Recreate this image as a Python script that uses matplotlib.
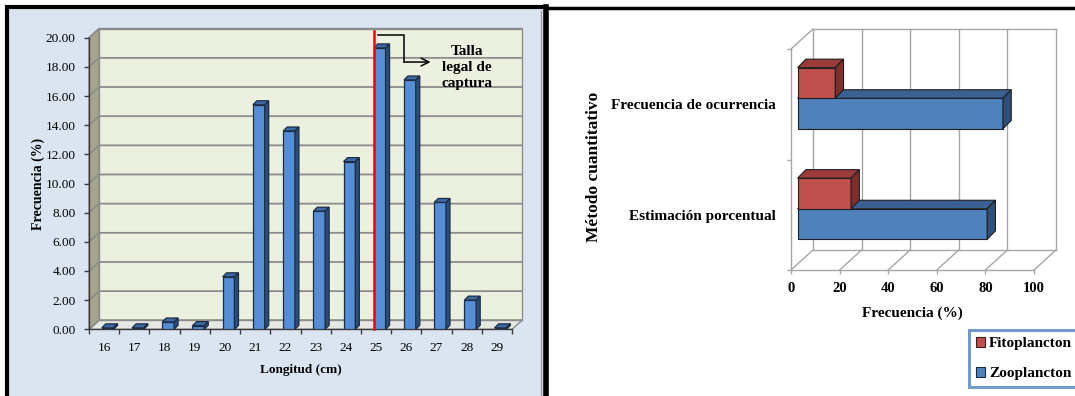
import matplotlib
matplotlib.use("Agg")
import matplotlib.pyplot as plt
from matplotlib.patches import Polygon, Rectangle, Patch
from matplotlib.lines import Line2D
import numpy as np

plt.rcParams["font.family"] = ["Liberation Serif", "DejaVu Serif"]

W, H, DPI = 1075, 396, 100

# Length-frequency distribution of the catch
longitud = [16, 17, 18, 19, 20, 21, 22, 23, 24, 25, 26, 27, 28, 29]
frecuencia = [0.10, 0.10, 0.50, 0.25, 3.60, 15.40, 13.60, 8.10, 11.50, 19.30, 17.10, 8.70, 2.00, 0.10]
talla_legal = 25
yticks_left = list(range(0, 21, 2))

# Diet composition by quantitative method
metodos = ["Estimación porcentual", "Frecuencia de ocurrencia"]
fitoplancton = [22.0, 15.5]
zooplancton = [78.0, 84.5]
xticks_right = [0, 20, 40, 60, 80, 100]

fig = plt.figure(figsize=(W / DPI, H / DPI), dpi=DPI)
fig.patch.set_facecolor("white")


def frac_box(x0, y0, x1, y1):
    """Pixel box (origin top-left) -> figure-fraction rect."""
    return [x0 / W, 1 - y1 / H, (x1 - x0) / W, (y1 - y0) / H]


# ---------------- panel frames ----------------
fig.patches.append(Rectangle((7 / W, -0.05), (546 - 7) / W, 1.05 - 7 / H,
                             transform=fig.transFigure, facecolor="#dbe5f1",
                             edgecolor="black", linewidth=3, zorder=-2))
fig.add_artist(Line2D([546 / W, 546 / W], [0, 1 - 7 / H], transform=fig.transFigure,
                      color="black", linewidth=4, zorder=-1))
fig.add_artist(Line2D([541 / W, 541 / W], [0, 1 - 11 / H], transform=fig.transFigure,
                      color="#9a9a9a", linewidth=1, zorder=-1))
fig.add_artist(Line2D([546 / W, 1], [1 - 7.5 / H, 1 - 7.5 / H], transform=fig.transFigure,
                      color="black", linewidth=2.5, zorder=-1))

# ---------------- left chart: 3D-style column chart ----------------
L_X0, L_X1, L_Y0, L_Y1 = 89, 512, 37.7, 329.3
ax1 = fig.add_axes(frac_box(L_X0, L_Y0, L_X1, L_Y1))
ax1.set_zorder(2)
n = len(longitud)
ax1.set_xlim(-0.5, n - 0.5)
ax1.set_ylim(0, 20)
ax1.patch.set_visible(False)

pxx = (L_X1 - L_X0) / n
pxy = (L_Y1 - L_Y0) / 20.0
wx, wy = 10 / pxx, 9 / pxy          # back-wall depth offset
xa, xb = -0.5, n - 0.5

grid_c = "#8c8c8c"
ax1.add_patch(Polygon([(xa + wx, wy), (xb + wx, wy), (xb + wx, 20 + wy), (xa + wx, 20 + wy)],
                      closed=True, facecolor="#ebf1de", edgecolor=grid_c, lw=1, zorder=0.5,
                      clip_on=False))
ax1.add_patch(Polygon([(xa, 0), (xa + wx, wy), (xa + wx, 20 + wy), (xa, 20)],
                      closed=True, facecolor="#a5a58d", edgecolor=grid_c, lw=1, zorder=0.6,
                      clip_on=False))
ax1.add_patch(Polygon([(xa, 0), (xb, 0), (xb + wx, wy), (xa + wx, wy)],
                      closed=True, facecolor="#e6e9e1", edgecolor=grid_c, lw=1, zorder=0.6,
                      clip_on=False))
for g in yticks_left:
    ax1.plot([xa, xa + wx, xb + wx], [g, g + wy, g + wy], color=grid_c, lw=1.3,
             zorder=0.8, clip_on=False)

# columns: front faces via bar(), top and side faces as polygons
xs = np.arange(n)
bw, boff = 0.39, 0.12
dx, dy = 4 / pxx, 4 / pxy
front_c, top_c, side_c, edge_c = "#558ed5", "#3d6aa3", "#2c4d78", "#1b2c44"
ax1.bar(xs + boff, frecuencia, width=bw, color=front_c, edgecolor=edge_c, lw=0.9, zorder=3)
for x, v in zip(xs + boff, frecuencia):
    xl, xr = x - bw / 2, x + bw / 2
    ax1.add_patch(Polygon([(xl, v), (xr, v), (xr + dx, v + dy), (xl + dx, v + dy)],
                          closed=True, facecolor=top_c, edgecolor=edge_c, lw=0.9, zorder=3,
                          clip_on=False))
    ax1.add_patch(Polygon([(xr, 0), (xr, v), (xr + dx, v + dy), (xr + dx, dy)],
                          closed=True, facecolor=side_c, edgecolor=edge_c, lw=0.9, zorder=3,
                          clip_on=False))

# legal catch size marker
i_legal = longitud.index(talla_legal)
x_legal = i_legal + boff - bw / 2
ax1.plot([x_legal, x_legal], [0, 20.45], color="#ff0000", lw=1.8, zorder=5, clip_on=False)
y_a, y_b = 20.18, 18.33
ax1.plot([x_legal + 0.13, x_legal + 1.0, x_legal + 1.0], [y_a, y_a, y_b],
         color="black", lw=1.1, zorder=5, clip_on=False)
ax1.annotate("", xy=(x_legal + 1.88, y_b), xytext=(x_legal + 0.99, y_b),
             arrowprops=dict(arrowstyle="->", color="black", lw=1.1,
                             mutation_scale=14, shrinkA=0, shrinkB=0), zorder=5)
ax1.text(x_legal + 3.08, 17.95, "Talla\nlegal de\ncaptura", ha="center", va="center",
         fontsize=11, fontweight="bold", linespacing=1.3, zorder=5)

# axes, ticks and labels
for s in ["top", "right"]:
    ax1.spines[s].set_visible(False)
for s in ["left", "bottom"]:
    ax1.spines[s].set_color("#3a3a3a")
    ax1.spines[s].set_linewidth(1)
ax1.set_yticks(yticks_left)
ax1.set_yticklabels([f"{t:.2f}" for t in yticks_left], fontsize=9.5)
ax1.set_xticks(np.arange(n + 1) - 0.5)
ax1.set_xticklabels([])
ax1.set_xticks(xs, minor=True)
ax1.set_xticklabels([str(v) for v in longitud], minor=True, fontsize=9.5)
ax1.tick_params(axis="both", which="major", direction="out", length=3.5, width=1,
                color="#3a3a3a", pad=2)
ax1.tick_params(axis="y", which="major", pad=6)
ax1.tick_params(axis="x", which="minor", length=0, pad=9)
ax1.set_xlabel("Longitud (cm)", fontsize=9.5, fontweight="bold")
ax1.xaxis.set_label_coords(0.5, (L_Y1 - 370) / (L_Y1 - L_Y0))
ax1.xaxis.label.set_va("center")
ax1.set_ylabel("Frecuencia (%)", fontsize=10, fontweight="bold")
ax1.yaxis.set_label_coords((38 - L_X0) / (L_X1 - L_X0), 0.5)
ax1.yaxis.label.set_va("center")

# ---------------- right chart: 3D-style clustered horizontal bars ----------------
R_X0, R_X1, R_Y0, R_Y1 = 791, 1034, 49, 270
ax2 = fig.add_axes(frac_box(R_X0, R_Y0, R_X1, R_Y1))
ax2.set_zorder(2)
ax2.set_xlim(0, 100)
ax2.set_ylim(0, 2)
ax2.patch.set_visible(False)

qx = (R_X1 - R_X0) / 100.0
qy = (R_Y1 - R_Y0) / 2.0
bx, by = 22 / qx, 20 / qy            # back-wall depth offset
g2 = "#a6a6a6"
for v in xticks_right:
    ax2.plot([v + bx, v + bx], [by, 2 + by], color=g2, lw=1, zorder=0.5, clip_on=False)
    ax2.plot([v, v + bx], [0, by], color=g2, lw=1, zorder=0.5, clip_on=False)
ax2.plot([bx, 100 + bx], [by, by], color=g2, lw=1, zorder=0.5, clip_on=False)
ax2.plot([bx, 100 + bx], [2 + by, 2 + by], color=g2, lw=1, zorder=0.5, clip_on=False)
ax2.plot([0, bx], [2, 2 + by], color=g2, lw=1, zorder=0.5, clip_on=False)

f_depth = 0.3
x0 = f_depth * bx
y_shift = f_depth * by
bh = 0.277
ddx, ddy = 8.3 / qx, 8.5 / qy
cats = np.arange(len(metodos)) + 0.5


def bar3d(ax, centers, values, fc, tc, sc):
    ax.barh(centers, values, height=bh, left=x0, color=fc, edgecolor="#1e1e1e",
            lw=0.8, zorder=3)
    for c, v in zip(centers, values):
        yb, yt = c - bh / 2, c + bh / 2
        xr = x0 + v
        ax.add_patch(Polygon([(x0, yt), (xr, yt), (xr + ddx, yt + ddy), (x0 + ddx, yt + ddy)],
                             closed=True, facecolor=tc, edgecolor="#1e1e1e", lw=0.8,
                             zorder=3, clip_on=False))
        ax.add_patch(Polygon([(xr, yb), (xr, yt), (xr + ddx, yt + ddy), (xr + ddx, yb + ddy)],
                             closed=True, facecolor=sc, edgecolor="#1e1e1e", lw=0.8,
                             zorder=3, clip_on=False))


zoo_fc, zoo_tc, zoo_sc = "#4f81bd", "#3a6094", "#2f4e78"
fit_fc, fit_tc, fit_sc = "#c0504d", "#9c3c3a", "#7e2e2c"
bar3d(ax2, cats + y_shift - bh / 2, zooplancton, zoo_fc, zoo_tc, zoo_sc)
bar3d(ax2, cats + y_shift + bh / 2, fitoplancton, fit_fc, fit_tc, fit_sc)

for s in ["top", "right"]:
    ax2.spines[s].set_visible(False)
for s in ["left", "bottom"]:
    ax2.spines[s].set_color(g2)
    ax2.spines[s].set_linewidth(1)
ax2.set_xticks(xticks_right)
ax2.set_xticklabels([str(v) for v in xticks_right], fontsize=10.5, fontweight="bold")
ax2.set_yticks([0, 1, 2])
ax2.set_yticklabels([])
ax2.set_yticks(cats, minor=True)
ax2.set_yticklabels(metodos, minor=True, fontsize=11, fontweight="bold")
ax2.tick_params(axis="both", which="major", direction="out", length=3, width=1,
                color=g2)
ax2.tick_params(axis="x", which="major", pad=6)
ax2.tick_params(axis="y", which="minor", length=0, pad=11)
ax2.set_xlabel("Frecuencia (%)", fontsize=11, fontweight="bold")
ax2.xaxis.set_label_coords((912 - R_X0) / (R_X1 - R_X0), (R_Y1 - 313) / (R_Y1 - R_Y0))
ax2.xaxis.label.set_va("center")
ax2.set_ylabel("Método cuantitativo", fontsize=12.5, fontweight="bold")
ax2.yaxis.set_label_coords((594 - R_X0) / (R_X1 - R_X0), (R_Y1 - 167) / (R_Y1 - R_Y0))
ax2.yaxis.label.set_va("center")

handles = [Patch(facecolor=fit_fc, edgecolor="#3a1a1a", lw=0.8, label="Fitoplancton"),
           Patch(facecolor=zoo_fc, edgecolor="#1a2a3a", lw=0.8, label="Zooplancton")]
leg = fig.legend(handles=handles, loc="upper left",
                 bbox_to_anchor=(969 / W, 1 - 330 / H), bbox_transform=fig.transFigure,
                 borderaxespad=0, frameon=True, fancybox=False, handlelength=0.6,
                 handleheight=0.6, handletextpad=0.25, labelspacing=1.1, borderpad=0.45,
                 prop=dict(size=11, weight="bold"))
leg.get_frame().set_edgecolor("#4f81bd")
leg.get_frame().set_linewidth(2.2)

fig.savefig("out.png", dpi=DPI)
